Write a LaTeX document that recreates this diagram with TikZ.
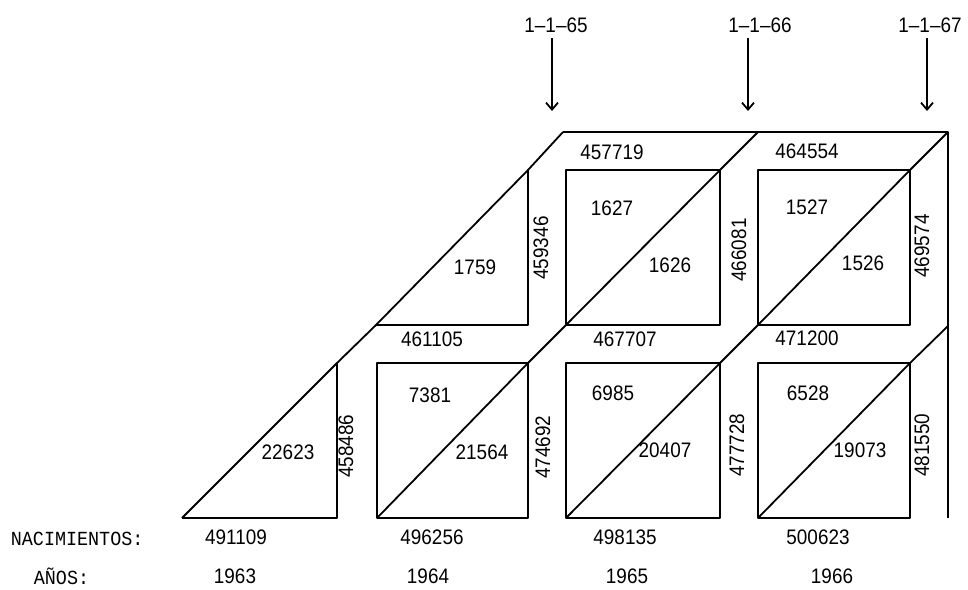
\documentclass[tikz,border=0pt]{standalone}
\usepackage{fontspec}
\setmainfont{Liberation Sans}[FakeStretch=0.9]
\newfontfamily\twfont{Liberation Mono}[FakeStretch=0.92]
\usetikzlibrary{arrows.meta}
\begin{document}
\begin{tikzpicture}[x=1pt,y=-1pt,line width=1.8pt,line join=round,
  num/.style={font=\fontsize{21}{21}\selectfont,inner sep=0pt},
  vnum/.style={num,rotate=90},
  lbl/.style={font=\twfont\fontsize{20}{20}\selectfont,inner sep=0pt,anchor=west},
  arr/.style={-{Straight Barb[length=7pt,width=12pt]},line width=1.8pt}]
\useasboundingbox[fill=white] (0,0) rectangle (968,589);
% grid shapes
\draw (182,518) -- (337,518) -- (337,363);
\draw (376,325) -- (528,325) -- (528,170);
\draw (377,363) rectangle (528,518);
\draw (566,363) rectangle (720,518);
\draw (758,363) rectangle (910,518);
\draw (566,170) rectangle (720,325);
\draw (758,170) rectangle (910,325);
\draw (563,132) -- (948,132) -- (948,518);
% life lines
\draw (182,518) -- (337,363) -- (376,325) -- (528,170) -- (563,132);
\draw (377,518) -- (528,363) -- (566,325) -- (720,170) -- (758,132);
\draw (566,518) -- (720,363) -- (758,325) -- (910,170) -- (948,132);
\draw (758,518) -- (910,363) -- (948,326);
% arrows
\node[num] (d65) at (556,25) {1–1–65};
\node[num] (d66) at (760,25) {1–1–66};
\node[num] (d67) at (930,25) {1–1–67};
\coordinate (a65s) at (552,38); \coordinate (a65e) at (552,111);
\coordinate (a66s) at (748,38); \coordinate (a66e) at (748,111);
\coordinate (a67s) at (927,38); \coordinate (a67e) at (927,111);
\draw[arr] (a65s) -- (a65e);
\draw[arr] (a66s) -- (a66e);
\draw[arr] (a67s) -- (a67e);
% upper row labels
\node[num] (t1) at (612,152) {457719};
\node[num] (t2) at (807,151) {464554};
\node[num] (u0) at (475,267) {1759};
\node[vnum] (v0) at (541,248) {459346};
\node[num] (u1a) at (612,208) {1627};
\node[num] (u1b) at (670,265) {1626};
\node[vnum] (v1) at (739,250) {466081};
\node[num] (u2a) at (807,207) {1527};
\node[num] (u2b) at (863,263) {1526};
\node[vnum] (v2) at (922,246) {469574};
\node[num] (m0) at (432,339) {461105};
\node[num] (m1) at (625,339) {467707};
\node[num] (m2) at (807,338) {471200};
% lower row labels
\node[num] (l0) at (288,452) {22623};
\node[vnum] (w0) at (346,446) {458486};
\node[num] (l1a) at (430,395) {7381};
\node[num] (l1b) at (482,452) {21564};
\node[vnum] (w1) at (543,447) {474692};
\node[num] (l2a) at (613,393) {6985};
\node[num] (l2b) at (665,450) {20407};
\node[vnum] (w2) at (737,445) {477728};
\node[num] (l3a) at (808,393) {6528};
\node[num] (l3b) at (860,450) {19073};
\node[vnum] (w3) at (922,445) {481550};
% bottom
\node[lbl] (nac) at (10,539) {NACIMIENTOS:};
\node[num] (b0) at (236,537) {491109};
\node[num] (b1) at (432,537) {496256};
\node[num] (b2) at (625,537) {498135};
\node[num] (b3) at (818,537) {500623};
\node[lbl] (anos) at (33,576) {AÑOS:};
\node[num] (y0) at (235,576) {1963};
\node[num] (y1) at (428,576) {1964};
\node[num] (y2) at (627,576) {1965};
\node[num] (y3) at (832,576) {1966};
\end{tikzpicture}
\end{document}
